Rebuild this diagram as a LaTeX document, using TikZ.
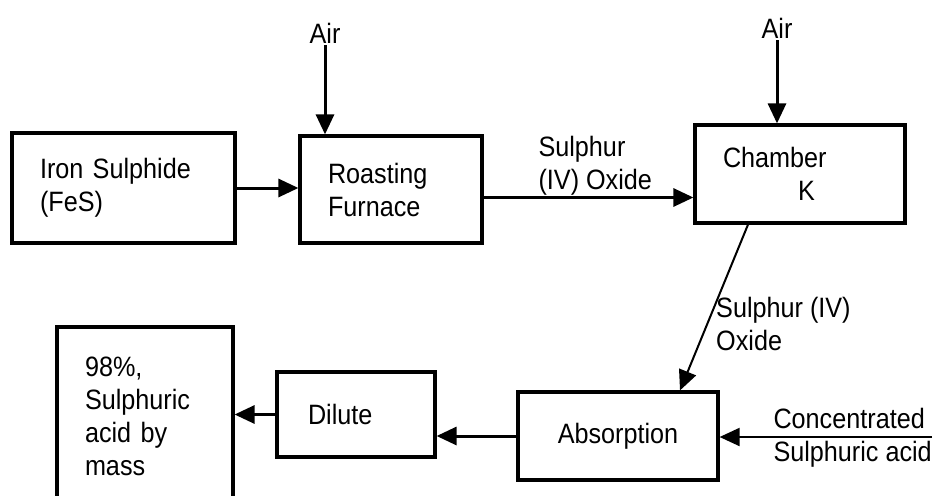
\documentclass[tikz,border=0pt]{standalone}
\usepackage{fontspec}
\newfontfamily\plantfont{Liberation Sans}[FakeStretch=0.9]
\usetikzlibrary{arrows.meta,calc}
\tikzset{
  unitbox/.style={draw, line width=3.2pt, align=left, inner xsep=28pt, inner ysep=0pt},
  flow/.style={line width=3pt, -{Triangle[length=20pt,width=18pt]}},
  thinflow/.style={line width=2pt, -{Triangle[length=20pt,width=18pt]}},
  tag/.style={align=left, inner sep=2pt}
}

\begin{document}
\begin{tikzpicture}[x=1pt,y=-1pt,font=\plantfont\fontsize{28}{33}\selectfont]
		\useasboundingbox (0,0) rectangle (941,495);
		\clip (0,0) rectangle (941,495);
		\node[unitbox,text width=167pt,minimum height=110pt] (iron) at (123.5,188) {Iron Sulphide\\(FeS)};
		\node[unitbox,text width=126pt,minimum height=107pt] (roast) at (391,189.5) {Roasting\\Furnace};
		\node[unitbox,text width=154pt,minimum height=98pt] (chamber) at (800,174) {Chamber\\\hspace*{75pt}K};
		\node[unitbox,align=center,text width=144pt,minimum height=88pt] (absorb) at (618,436) {Absorption};
		\node[unitbox,inner xsep=31pt,text width=96pt,minimum height=85pt] (dilute) at (356,414.5) {Dilute};
		\node[unitbox,text width=120pt,minimum height=178pt] (acid) at (145,416) {98\%,\\Sulphuric\\acid by\\mass};
		\node[tag] (airA) at (325,33) {Air};
		\node[tag] (airB) at (777,28) {Air};
		\node[tag,anchor=east] (conc) at (934,438) {Concentrated\\Sulphuric acid};
		\coordinate (concIn) at (932,437);
		\draw[flow] (airA.south) -- (airA.south |- roast.north);
		\draw[flow] (airB.south) -- (airB.south |- chamber.north);
		\draw[flow] (iron.east) -- (iron.east -| roast.west);
		\draw[flow] ([yshift=-8pt]roast.east) -- ([yshift=-8pt]roast.east -| chamber.west)
			node[tag,pos=0.25,anchor=south west,inner sep=1pt] (so2a) {Sulphur\\(IV) Oxide};
		\draw[thinflow] ([xshift=-52pt]chamber.south) -- ([xshift=62pt]absorb.north)
			node[tag,pos=0.6,anchor=west,inner sep=8pt] (so2b) {Sulphur (IV)\\Oxide};
		\draw[thinflow] (concIn) -- (concIn -| absorb.east);
		\draw[flow] (absorb.west) -- (absorb.west -| dilute.east);
		\draw[flow] (dilute.west) -- (dilute.west -| acid.east);
\end{tikzpicture}
\end{document}
